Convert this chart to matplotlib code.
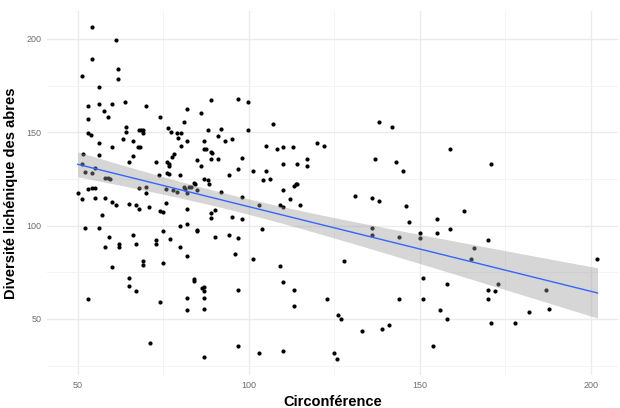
import numpy as np
import matplotlib
matplotlib.use("Agg")
import matplotlib.pyplot as plt

circonference = [
    50.0, 54.3, 61.1, 54.2, 51.3, 61.9, 61.9, 56.1, 53.0, 56.2, 60.0, 63.9, 69.9, 57.8, 53.0, 58.9, 74.0,
    52.9, 54.0, 56.1, 60.1, 63.2, 64.1, 64.1, 66.2, 67.8, 68.4, 69.1, 69.0, 67.6, 68.2, 66.2, 65.0, 56.1,
    51.6, 51.3, 55.1, 52.2, 54.2, 58.0, 58.7, 59.5, 53.0, 54.2, 55.0, 55.1, 51.3, 58.1, 60.1, 61.2, 57.2,
    52.1, 56.1, 59.1, 58.1, 62.1, 62.1, 60.0, 53.0, 65.0, 67.9, 69.9, 69.9, 73.0, 73.9, 66.9, 68.0, 70.9,
    66.2, 66.9, 69.0, 69.0, 73.0, 73.0, 65.0, 65.0, 66.9, 74.0, 71.1, 74.1, 75.0, 75.9, 75.0, 76.9, 75.0,
    76.4, 77.3, 78.9, 79.2, 76.0, 76.8, 76.8, 76.0, 76.8, 78.0, 77.6, 75.9, 77.9, 79.0, 80.1, 80.1, 81.0,
    82.0, 82.0, 80.0, 81.0, 82.0, 81.4, 82.5, 83.1, 84.0, 84.3, 79.9, 82.0, 82.0, 79.9, 82.0, 84.0, 84.0,
    82.0, 82.0, 86.1, 85.0, 86.1, 87.0, 87.5, 86.8, 88.1, 89.1, 89.0, 89.3, 89.1, 91.0, 91.0, 91.9, 93.0,
    95.0, 94.1, 87.0, 88.0, 88.3, 84.8, 91.9, 89.1, 89.1, 90.0, 90.1, 85.0, 85.0, 87.0, 87.0, 87.0, 87.0,
    86.3, 87.0, 96.8, 99.8, 99.9, 98.1, 96.9, 98.1, 95.0, 94.1, 96.9, 98.1, 96.1, 96.9, 96.9, 103.0, 101.2,
    103.1, 101.3, 104.0, 105.0, 105.0, 104.1, 106.2, 107.0, 108.2, 110.0, 110.0, 109.1, 110.0, 110.0, 109.1,
    110.0, 110.0, 114.0, 113.2, 113.7, 114.0, 112.9, 112.1, 115.1, 113.1, 113.1, 116.9, 116.9, 120.0, 122.0,
    123.0, 125.0, 126.0, 126.9, 125.9, 128.0, 131.0, 133.0, 136.0, 136.0, 136.0, 136.9, 138.1, 138.1, 139.0,
    141.0, 142.0, 143.1, 143.9, 143.9, 145.0, 145.9, 146.9, 150.0, 150.0, 151.0, 151.0, 154.0, 155.0, 155.0,
    155.9, 158.0, 158.0, 158.9, 158.9, 163.0, 164.9, 166.0, 170.0, 170.0, 170.0, 171.0, 171.0, 172.0, 173.0,
    177.9, 182.0, 187.0, 187.8, 202.0,
]
diversite = [
    117.4, 206.4, 199.3, 189.4, 180.1, 183.7, 178.7, 174.2, 164.2, 165.1, 165.1, 166.5, 164.2, 161.5, 157.2, 158.1, 158.1,
    149.6, 148.5, 144.2, 142.2, 146.3, 152.9, 150.3, 145.1, 151.3, 151.3, 149.9, 151.0, 142.2, 142.2, 137.4, 134.2, 137.7,
    138.3, 133.1, 131.0, 129.0, 128.1, 125.8, 125.8, 125.2, 119.5, 120.0, 120.0, 115.0, 114.1, 115.0, 112.9, 111.1, 105.7,
    98.7, 98.7, 93.9, 88.5, 90.0, 88.5, 78.0, 60.6, 111.8, 120.0, 120.9, 117.4, 134.2, 127.2, 111.1, 108.8, 110.2,
    95.0, 90.0, 81.0, 79.0, 92.3, 90.0, 71.7, 67.8, 65.1, 58.9, 36.9, 107.9, 107.5, 112.0, 97.1, 93.0, 79.8,
    152.2, 150.4, 149.9, 147.2, 134.2, 133.1, 131.8, 128.0, 127.6, 138.5, 136.7, 119.5, 119.2, 118.3, 149.9, 142.9, 155.3,
    162.4, 145.1, 127.2, 120.9, 117.4, 119.7, 120.5, 120.9, 123.0, 122.3, 100.0, 100.7, 108.8, 88.5, 83.5, 71.5, 70.6,
    61.4, 54.7, 160.3, 135.2, 132.2, 145.1, 141.0, 141.0, 151.0, 167.4, 139.7, 138.8, 135.6, 135.6, 148.1, 151.7, 145.1,
    146.3, 127.2, 125.0, 124.5, 122.2, 119.1, 117.9, 104.3, 107.0, 108.3, 93.7, 97.0, 97.9, 67.3, 65.0, 61.4, 55.6,
    66.4, 29.7, 168.0, 166.4, 151.3, 136.1, 130.2, 115.6, 104.8, 94.8, 93.6, 103.6, 85.0, 65.8, 35.6, 31.8, 129.3,
    111.1, 82.1, 98.0, 142.9, 129.3, 124.5, 125.0, 154.2, 141.0, 142.4, 133.1, 110.9, 110.2, 119.3, 78.5,
    70.0, 32.7, 133.1, 121.5, 122.4, 122.2, 142.0, 114.3, 111.1, 65.8, 56.9, 135.8, 132.2, 144.2, 142.9,
    60.6, 32.0, 52.0, 50.0, 28.8, 80.9, 115.9, 43.6, 115.0, 98.6, 95.0, 135.8, 155.3, 113.2, 44.9,
    46.7, 152.9, 134.3, 93.7, 60.6, 129.3, 110.7, 102.1, 95.9, 93.2, 71.7, 60.6, 35.6, 103.6, 95.9,
    54.7, 68.7, 49.9, 141.0, 98.0, 107.9, 82.1, 87.8, 92.3, 65.8, 60.6, 133.1, 47.9, 65.0, 69.0,
    47.9, 53.8, 65.8, 55.6, 82.1,
]
x_ticks = [50, 100, 150, 200]
y_ticks = [50, 100, 150, 200]
x_label = "Circonférence"
y_label = "Diversité lichénique des abres"

plt.rcParams['font.family'] = ['Liberation Sans', 'DejaVu Sans']

x = np.array(circonference)
y = np.array(diversite)
n = len(x)
xm = x.mean()
sxx = ((x - xm) ** 2).sum()
b1 = ((x - xm) * (y - y.mean())).sum() / sxx
b0 = y.mean() - b1 * xm
resid = y - (b0 + b1 * x)
s = np.sqrt((resid ** 2).sum() / (n - 2))
xs = np.linspace(x.min(), x.max(), 80)
fit = b0 + b1 * xs
se = s * np.sqrt(1.0 / n + (xs - xm) ** 2 / sxx)
tval = 1.9696

W, H = 620, 408
fig = plt.figure(figsize=(W / 100, H / 100), dpi=100)
left, right, top, bottom = 47, 618, 11, 375
ax = fig.add_axes([left / W, 1 - bottom / H, (right - left) / W, (bottom - top) / H])
ax.set_xlim(41, 208)
ax.set_ylim(20, 215)

ax.set_xticks(x_ticks)
ax.set_yticks(y_ticks)
ax.set_xticks([75, 125, 175], minor=True)
ax.set_yticks([25, 75, 125, 175], minor=True)
ax.grid(True, which='major', color='#EBEBEB', linewidth=1.0)
ax.grid(True, which='minor', color='#F2F2F2', linewidth=0.6)
ax.set_axisbelow(True)
for sp in ax.spines.values():
    sp.set_visible(False)
ax.tick_params(which='both', length=0, labelsize=6.5, labelcolor='#6E6E6E', pad=4)

ax.scatter(x, y, s=9, color='black', linewidths=0, zorder=3)
ax.fill_between(xs, fit - tval * se, fit + tval * se, color='#999999', alpha=0.4, linewidth=0, zorder=4)
ax.plot(xs, fit, color='#3366FF', linewidth=1.0, zorder=5)

ax.set_xlabel(x_label, fontsize=10.5, fontweight='bold', labelpad=4)
ax.set_ylabel(y_label, fontsize=10.5, fontweight='bold', labelpad=6)

fig.savefig('out.png', dpi=100)
